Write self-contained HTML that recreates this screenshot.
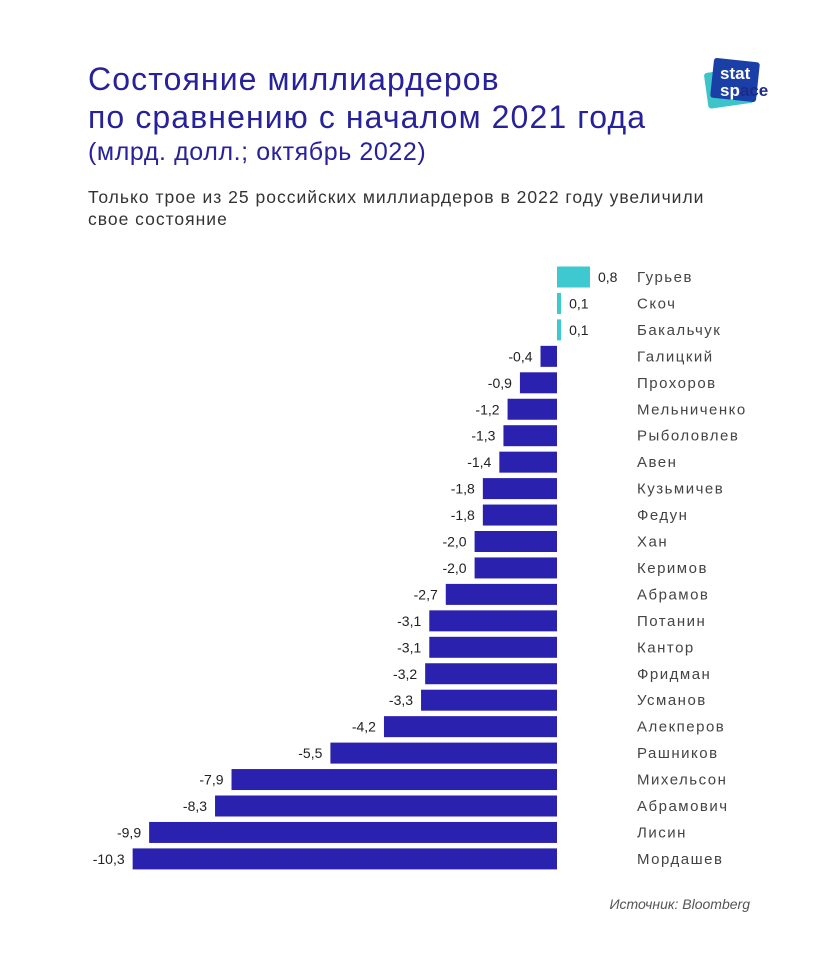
<!DOCTYPE html>
<html><head><meta charset="utf-8"><style>
body{margin:0;background:#fff;width:840px;height:970px;overflow:hidden;font-family:"Liberation Sans","Noto Sans CJK SC",sans-serif;position:relative}
.t{position:absolute;left:88px;color:#27229a;margin:0}
</style></head><body>
<h1 class="t" style="top:60px;font-size:32px;font-weight:normal;line-height:38px;letter-spacing:1.1px">Состояние миллиардеров<br>по сравнению с началом 2021 года</h1>
<div class="t" style="top:138px;font-size:25px;letter-spacing:0.6px">(млрд. долл.; октябрь 2022)</div>
<div style="position:absolute;left:88px;top:186px;font-size:17.5px;line-height:22px;color:#333;letter-spacing:1px">Только трое из 25 российских миллиардеров в 2022 году увеличили<br>свое состояние</div>
<svg style="position:absolute;left:698px;top:56px" width="100" height="55">
<rect x="8" y="14" width="46" height="36" rx="3" fill="#3cc4c8" transform="rotate(-8 30 32)"/>
<rect x="14" y="4" width="46" height="40" rx="3" fill="#1a3fa6" transform="rotate(6 37 24)"/>
<text x="22" y="23" font-size="17" font-weight="bold" fill="#fff" font-family="Liberation Sans,sans-serif">stat</text>
<text x="22" y="40" font-size="17" font-weight="bold" fill="#fff" font-family="Liberation Sans,sans-serif">sp<tspan fill="#1c2a8a">ace</tspan></text>
</svg>
<svg id="chart" style="position:absolute;left:0;top:0" width="840" height="970"></svg>
<div style="position:absolute;right:90px;top:896px;font-size:14px;font-style:italic;color:#555">Источник: Bloomberg</div>
<script>
const names=["Гурьев","Скоч","Бакальчук","Галицкий","Прохоров","Мельниченко","Рыболовлев","Авен","Кузьмичев","Федун","Хан","Керимов","Абрамов","Потанин","Кантор","Фридман","Усманов","Алекперов","Рашников","Михельсон","Абрамович","Лисин","Мордашев"];
const values=[0.8,0.1,0.1,-0.4,-0.9,-1.2,-1.3,-1.4,-1.8,-1.8,-2.0,-2.0,-2.7,-3.1,-3.1,-3.2,-3.3,-4.2,-5.5,-7.9,-8.3,-9.9,-10.3];
const NS="http://www.w3.org/2000/svg",svg=document.getElementById("chart");
const x0=557,k=41.2;
const xs=v=>x0+v*k;
const yc=i=>277+i*26.45;
function mk(t,a){const e=document.createElementNS(NS,t);for(const q in a)e.setAttribute(q,a[q]);svg.appendChild(e);return e;}
values.forEach((v,i)=>{
 const y=yc(i);
 let x1=Math.min(xs(0),xs(v)),w=Math.abs(xs(v)-xs(0));
 if(w<4)w=4;
 const b=mk("rect",{x:x1,y:y-10.5,width:w,height:21,fill:v>=0?"#3ec8d0":"#2a22ae"});
 
 
 const s=v.toFixed(1).replace(".",",");
 const l=mk("text",{x:v>=0?x1+w+8:x1-8,y:y+5,"font-size":14,fill:"#222","text-anchor":v>=0?"start":"end"});
 l.textContent=s;
 
 
 const n=mk("text",{x:637,y:y+5,"font-size":15,fill:"#444","letter-spacing":"1.5"});
 n.textContent=names[i];
 
 
});
</script>
</body></html>
